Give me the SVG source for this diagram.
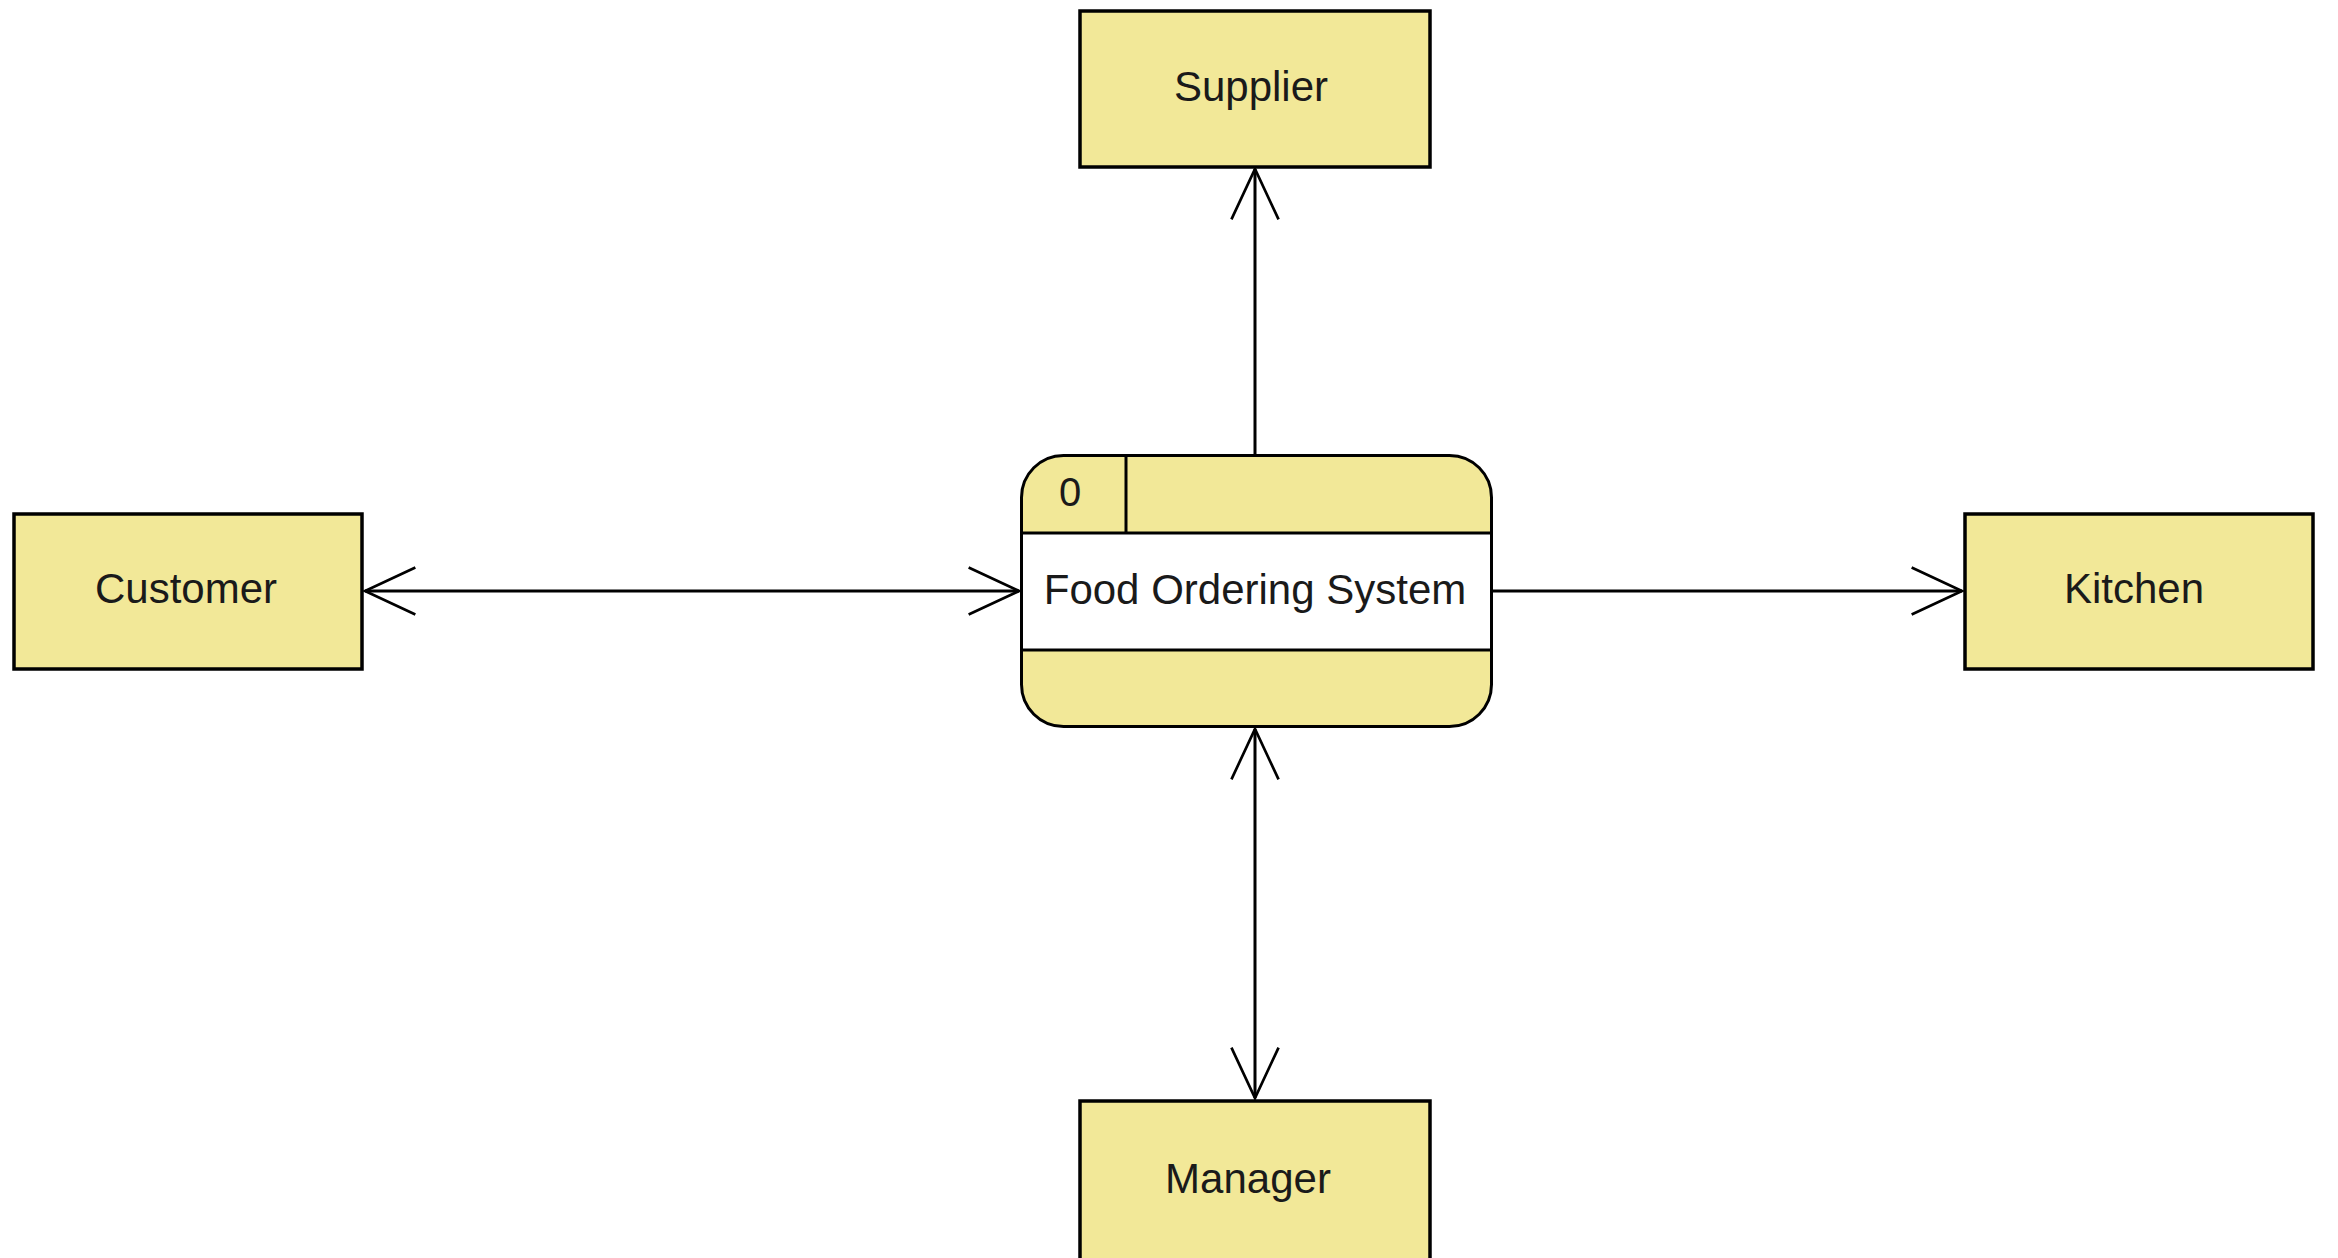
<svg xmlns="http://www.w3.org/2000/svg" width="2338" height="1258" viewBox="0 0 2338 1258">
<style>
.ent{fill:#F2E898;stroke:#000;stroke-width:3.5}
.lbl{font-family:"Liberation Sans",Arial,sans-serif;font-size:42px;fill:#1a1a1a;text-anchor:middle}
.flow{stroke:#000;stroke-width:3;fill:none}
.sep{stroke:#000;stroke-width:3}
</style>
<defs>
<marker id="arr" markerUnits="userSpaceOnUse" markerWidth="60" markerHeight="60" viewBox="-52 -26 56 52" refX="0" refY="0" orient="auto-start-reverse">
<path d="M-47,-22 L0,0 L-47,22" fill="none" stroke="#000" stroke-width="2.5"/>
</marker>
</defs>
<rect width="2338" height="1258" fill="#fff"/>
<g id="connectors">
<line class="flow" x1="1255" y1="454" x2="1255" y2="169" marker-end="url(#arr)"/>
<line class="flow" x1="365" y1="591" x2="1019" y2="591" marker-start="url(#arr)" marker-end="url(#arr)"/>
<line class="flow" x1="1493" y1="591" x2="1962" y2="591" marker-end="url(#arr)"/>
<line class="flow" x1="1255" y1="729" x2="1255" y2="1098" marker-start="url(#arr)" marker-end="url(#arr)"/>
</g>
<g id="supplier">
<rect class="ent" x="1080" y="11" width="350" height="156"/>
<text class="lbl" x="1251" y="101">Supplier</text>
</g>
<g id="customer">
<rect class="ent" x="14" y="514" width="348" height="155"/>
<text class="lbl" x="186" y="603">Customer</text>
</g>
<g id="kitchen">
<rect class="ent" x="1965" y="514" width="348" height="155"/>
<text class="lbl" x="2134" y="603">Kitchen</text>
</g>
<g id="manager">
<rect class="ent" x="1080" y="1101" width="350" height="160"/>
<text class="lbl" x="1248" y="1193">Manager</text>
</g>
<g id="process">
<rect x="1021.5" y="455.5" width="470" height="271" rx="42" ry="42" fill="#F2E898" stroke="#000" stroke-width="3"/>
<rect x="1023" y="533" width="467" height="117" fill="#fff"/>
<line class="sep" x1="1021.5" y1="533" x2="1491.5" y2="533"/>
<line class="sep" x1="1021.5" y1="650" x2="1491.5" y2="650"/>
<line class="sep" x1="1126" y1="455.5" x2="1126" y2="533"/>
<text x="1070" y="506" style="font-family:'Liberation Sans',Arial,sans-serif;font-size:40px;fill:#1a1a1a;text-anchor:middle">0</text>
<text class="lbl" x="1255" y="604">Food Ordering System</text>
</g>
</svg>
